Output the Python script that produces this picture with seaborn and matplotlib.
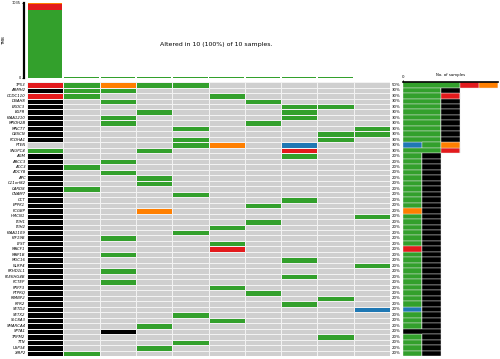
import numpy as np
import pandas as pd
import matplotlib
matplotlib.use("Agg")
import matplotlib.pyplot as plt
from matplotlib.colors import ListedColormap
import seaborn as sns

# genes (rows) of the oncoplot, top to bottom
genes = ["TP53", "ARMH2", "CCDC110", "DNAH8", "EXOC3", "EGFR", "KIAA1210", "MROH2B",
         "MNCT7", "OBSCN", "PCDHA1", "PTEN", "SNUPC4", "AGM", "ABCC3", "ACC3", "ADCY8",
         "APC", "C11orf82", "CARD8", "CNAM7", "CCT", "EPPK1", "FCGBP", "HMCN1", "ITIH1",
         "ITIH2", "KIAA1109", "KIF19B", "LYST", "MACF1", "MAP1B", "MUC16", "NLRP4",
         "PKHD1L1", "PLEKHG4B", "PCTEP", "PRPF3", "PTPRQ", "RIMBP2", "RYR2", "SETD2",
         "SETX2", "SLC8A3", "SMARCA4", "SPTA1", "TRPM2", "TTN", "USP34", "XIRP2"]

# one string per gene, one char per sample (10 samples)
# . none, B frame shift del, G missense, R nonsense, O frame shift ins, K multi hit
calls = ["RGOGG.....", "KGG.......", "RG...G....", "K.G...G...", "K......GG.",
         "K..G...G..", "K.G....G..", "K.G...G...", "K...G....G", "K.......GG",
         "K...G...G.", "....GO.B..", "G..G...R..", "K......G..", "K.G.......",
         "KG........", "K.G.......", "K..G......", "K..G......", "KG........",
         "K...G.....", "K......G..", "K.....G...", "K..O......", "K........G",
         "K.....G...", "K....G....", "K...G.....", "K.G.......", "K....G....",
         "K....R....", "K.G.......", "K......G..", "K........G", "K.G.......",
         "K......G..", "K.G.......", "K....G....", "K.....G...", "K.......G.",
         "K......G..", "K........B", "K...G.....", "K....G....", "K..G......",
         "K.K.......", "K.......G.", "K...G.....", "K..G......", "KG........"]

classes = ["B", "G", "R", "O", "K"]
class_colors = ["#1F78B4", "#33A02C", "#E31A1C", "#FF7F00", "#000000"]

# variants per sample for the top bar (stacked: missense, nonsense, frame shift ins)
tmb_missense = [930, 8, 6, 9, 7, 6, 8, 7, 6, 5]
tmb_nonsense = [95, 0, 0, 0, 1, 1, 0, 1, 0, 0]
tmb_fsins = [10, 0, 1, 1, 0, 1, 0, 0, 0, 0]

code = {".": 0, "B": 1, "G": 2, "R": 3, "O": 4, "K": 5}
mat = pd.DataFrame([[code[c] for c in row] for row in calls], index=genes)
counts = {c: np.array([row.count(c) for row in calls]) for c in classes}
n_mut = np.array([10 - row.count(".") for row in calls])

fig = plt.figure(figsize=(5, 3.59), dpi=100)
ax = fig.add_axes([0.054, 0.0084, 0.726, 0.763])
ax_top = fig.add_axes([0.054, 0.783, 0.726, 0.209])
ax_r = fig.add_axes([0.806, 0.0084, 0.19, 0.763])

cmap = ListedColormap(["#CFCFCF"] + class_colors)
sns.heatmap(mat, ax=ax, cmap=cmap, vmin=-0.5, vmax=5.5, cbar=False,
            linewidths=0.5, linecolor="#F2F2F2", xticklabels=False, yticklabels=genes)
ax.tick_params(length=0, pad=1)
for t in ax.get_yticklabels():
    t.set_fontsize(2.8)
    t.set_fontstyle("italic")
ax.set_ylabel("")
for i, n in enumerate(n_mut):
    ax.text(10.05, i + 0.5, f"{n * 10}%", fontsize=2.8, ha="left", va="center", clip_on=False)

# top bar
x = np.arange(10) + 0.5
bottom = np.zeros(10)
for vals, col in [(tmb_missense, "#33A02C"), (tmb_nonsense, "#E31A1C"), (tmb_fsins, "#FF7F00")]:
    ax_top.bar(x, vals, bottom=bottom, width=0.95, color=col, linewidth=0)
    bottom += np.array(vals)
ax_top.set_xlim(0, 10)
ax_top.set_ylim(0, bottom.max())
ax_top.set_xticks([])
ax_top.set_yticks([0, bottom.max()])
ax_top.set_yticklabels(["0", f"{int(bottom.max())}"])
ax_top.tick_params(axis="y", length=1.5, width=0.6, pad=1, labelsize=2.5)
ax_top.set_ylabel("TMB", fontsize=3, labelpad=4)
for s in ["top", "right", "bottom"]:
    ax_top.spines[s].set_visible(False)
ax_top.spines["left"].set_linewidth(1.6)
ax_top.spines["left"].set_position(("outward", 2))
ax_top.text(0.52, 0.45, "Altered in 10 (100%) of 10 samples.", transform=ax_top.transAxes,
            fontsize=4.5, ha="center", va="center")

# right bar
y = np.arange(len(genes)) + 0.5
left = np.zeros(len(genes))
for c, col in zip(classes, class_colors):
    ax_r.barh(y, counts[c], left=left, height=1.0, color=col, edgecolor="#E8E8E8", linewidth=0.3)
    left += counts[c]
ax_r.set_ylim(len(genes), 0)
ax_r.set_xlim(0, 5)
ax_r.xaxis.tick_top()
ax_r.xaxis.set_label_position("top")
ax_r.set_xticks([0])
ax_r.set_xticklabels(["0"])
ax_r.tick_params(axis="x", length=1.5, width=0.6, pad=1, labelsize=2.8)
ax_r.set_xlabel("No. of samples", fontsize=2.8, labelpad=-1)
ax_r.set_yticks([])
for s in ["bottom", "right", "left"]:
    ax_r.spines[s].set_visible(False)
ax_r.spines["top"].set_linewidth(1.2)

fig.savefig("out.png", dpi=100)
